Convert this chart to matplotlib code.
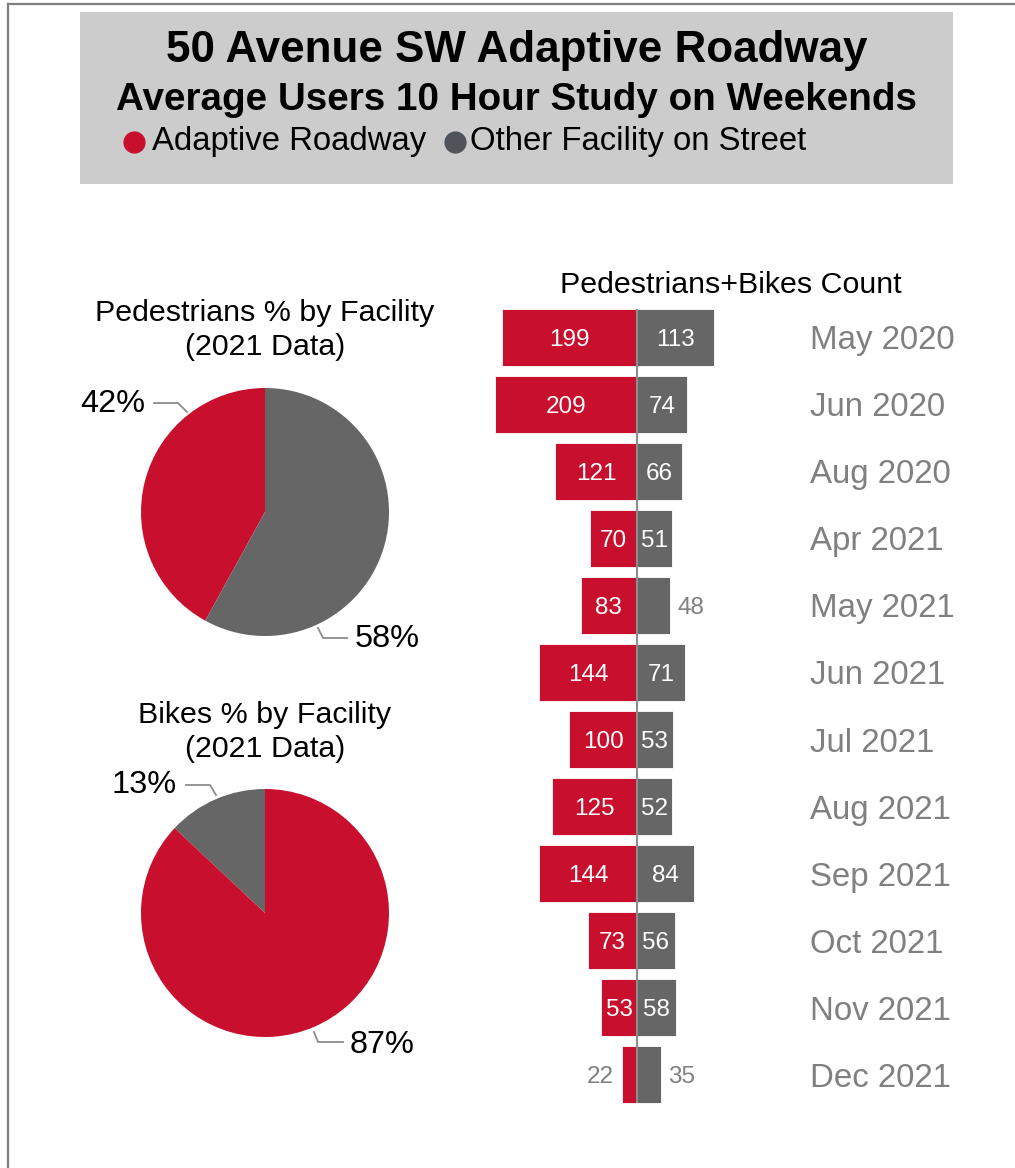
import matplotlib
matplotlib.use("Agg")
import matplotlib.pyplot as plt
from matplotlib.patches import Rectangle
from matplotlib.lines import Line2D

plt.rcParams["font.family"] = ["Liberation Sans", "DejaVu Sans"]

# ---- data ----
months = ["May 2020", "Jun 2020", "Aug 2020", "Apr 2021", "May 2021", "Jun 2021",
          "Jul 2021", "Aug 2021", "Sep 2021", "Oct 2021", "Nov 2021", "Dec 2021"]
adaptive = [199, 209, 121, 70, 83, 144, 100, 125, 144, 73, 53, 22]
other = [113, 74, 66, 51, 48, 71, 53, 52, 84, 56, 58, 35]

ped_share = [42, 58]      # adaptive, other
bike_share = [87, 13]     # adaptive, other

RED = "#C8102E"
GRAY = "#666666"
LIGHT = "#808080"
W, H = 1015, 1168


def px_rect(x0, y0, x1, y1):
    # pixel box (top-left origin) -> figure fraction rect
    return [x0 / W, 1 - y1 / H, (x1 - x0) / W, (y1 - y0) / H]


def fx(x):
    return x / W


def fy(y):
    return 1 - y / H


fig = plt.figure(figsize=(W / 100, H / 100), dpi=100)

# frame lines (left + top only)
fig.add_artist(Line2D([fx(8), fx(8)], [fy(4), 0], color="#7f7f7f", lw=1.6))
fig.add_artist(Line2D([fx(8), 1], [fy(4), fy(4)], color="#7f7f7f", lw=1.6))

# header box
fig.add_artist(Rectangle((fx(80), fy(184)), (953 - 80) / W, (184 - 12) / H,
                         transform=fig.transFigure, facecolor="#CCCCCC", edgecolor="none"))
fig.text(fx(517), fy(62), "50 Avenue SW Adaptive Roadway", ha="center", va="baseline",
         fontsize=31.7, fontweight="bold")
fig.text(fx(517), fy(110), "Average Users 10 Hour Study on Weekends", ha="center", va="baseline",
         fontsize=27.8, fontweight="bold")
for cx, col, x_txt, lab in [(134, RED, 152, "Adaptive Roadway"),
                             (455, "#50535A", 470, "Other Facility on Street")]:
    fig.add_artist(Line2D([fx(cx)], [fy(142)], marker="o", markersize=16,
                          markerfacecolor=col, markeredgecolor="none", linestyle="none"))
    fig.text(fx(x_txt), fy(150), lab, ha="left", va="baseline", fontsize=23.7)


# ---- pies ----
def draw_pie(cy, vals, colors, title_lines, title_base, labels):
    r = 124
    ax = fig.add_axes(px_rect(265 - 1.25 * r, cy - 1.25 * r, 265 + 1.25 * r, cy + 1.25 * r))
    ax.pie(vals, colors=colors, startangle=90, counterclock=True, radius=1,
           wedgeprops=dict(linewidth=0))
    ax.set_xlim(-1.25, 1.25)
    ax.set_ylim(-1.25, 1.25)
    ax.set_aspect("equal")
    for text, pts, tx, ty, ha in labels:
        xs = [(p[0] - 265) / r for p in pts]
        ys = [(cy - p[1]) / r for p in pts]
        ax.plot(xs, ys, color="#8c8c8c", lw=1.3, clip_on=False)
        ax.text((tx - 265) / r, (cy - ty) / r, text, ha=ha, va="baseline",
                fontsize=23.4, clip_on=False)
    fig.text(fx(265), fy(title_base), title_lines[0], ha="center", va="baseline", fontsize=21.9)
    fig.text(fx(265), fy(title_base + 34), title_lines[1], ha="center", va="baseline", fontsize=21.9)


draw_pie(512, [ped_share[0], ped_share[1]], [RED, GRAY],
         ["Pedestrians % by Facility", "(2021 Data)"], 321,
         [(f"{ped_share[0]}%", [(154, 403), (178, 403), (187, 412)], 145, 412, "right"),
          (f"{ped_share[1]}%", [(318, 628), (323, 638), (347, 638)], 355, 647, "left")])
draw_pie(913, [bike_share[1], bike_share[0]], [GRAY, RED],
         ["Bikes % by Facility", "(2021 Data)"], 723,
         [(f"{bike_share[1]}%", [(186, 785), (210, 785), (216, 795)], 177, 793, "right"),
          (f"{bike_share[0]}%", [(314, 1032), (318, 1042), (343, 1042)], 350, 1053, "left")])

# ---- butterfly bars ----
scale = 0.678  # px per unit
ax = fig.add_axes(px_rect(480, 303.5, 800, 1108.5))
ax.set_xlim((480 - 637) / scale, (800 - 637) / scale)
ax.set_ylim(len(months) - 0.5, -0.5)
y = list(range(len(months)))
bh = 0.85
ax.barh(y, [-v for v in adaptive], height=bh, color=RED, edgecolor="white", linewidth=0.6)
ax.barh(y, other, height=bh, color=GRAY, edgecolor="white", linewidth=0.6)
ax.vlines(0, -bh / 2, len(months) - 1 + bh / 2, color="#8c8c8c", lw=1.5, zorder=3)

for i, (a, o) in enumerate(zip(adaptive, other)):
    if a >= 50:
        ax.text(-a / 2, i, str(a), ha="center", va="center_baseline", color="white", fontsize=17.5)
    else:
        ax.text(-a - 12, i, str(a), ha="right", va="center_baseline", color=LIGHT, fontsize=17.5)
    if o >= 50:
        ax.text(o / 2, i, str(o), ha="center", va="center_baseline", color="white", fontsize=17.5)
    else:
        ax.text(o + 11, i, str(o), ha="left", va="center_baseline", color=LIGHT, fontsize=17.5)

ax.yaxis.tick_right()
ax.set_yticks(y)
ax.set_yticklabels(months, fontsize=23.8, color=LIGHT)
ax.tick_params(axis="y", length=0, pad=7.2)
ax.set_xticks([])
for s in ax.spines.values():
    s.set_visible(False)

fig.text(fx(731), fy(293), "Pedestrians+Bikes Count", ha="center", va="baseline", fontsize=21.9)

fig.savefig("out.png", dpi=100)
